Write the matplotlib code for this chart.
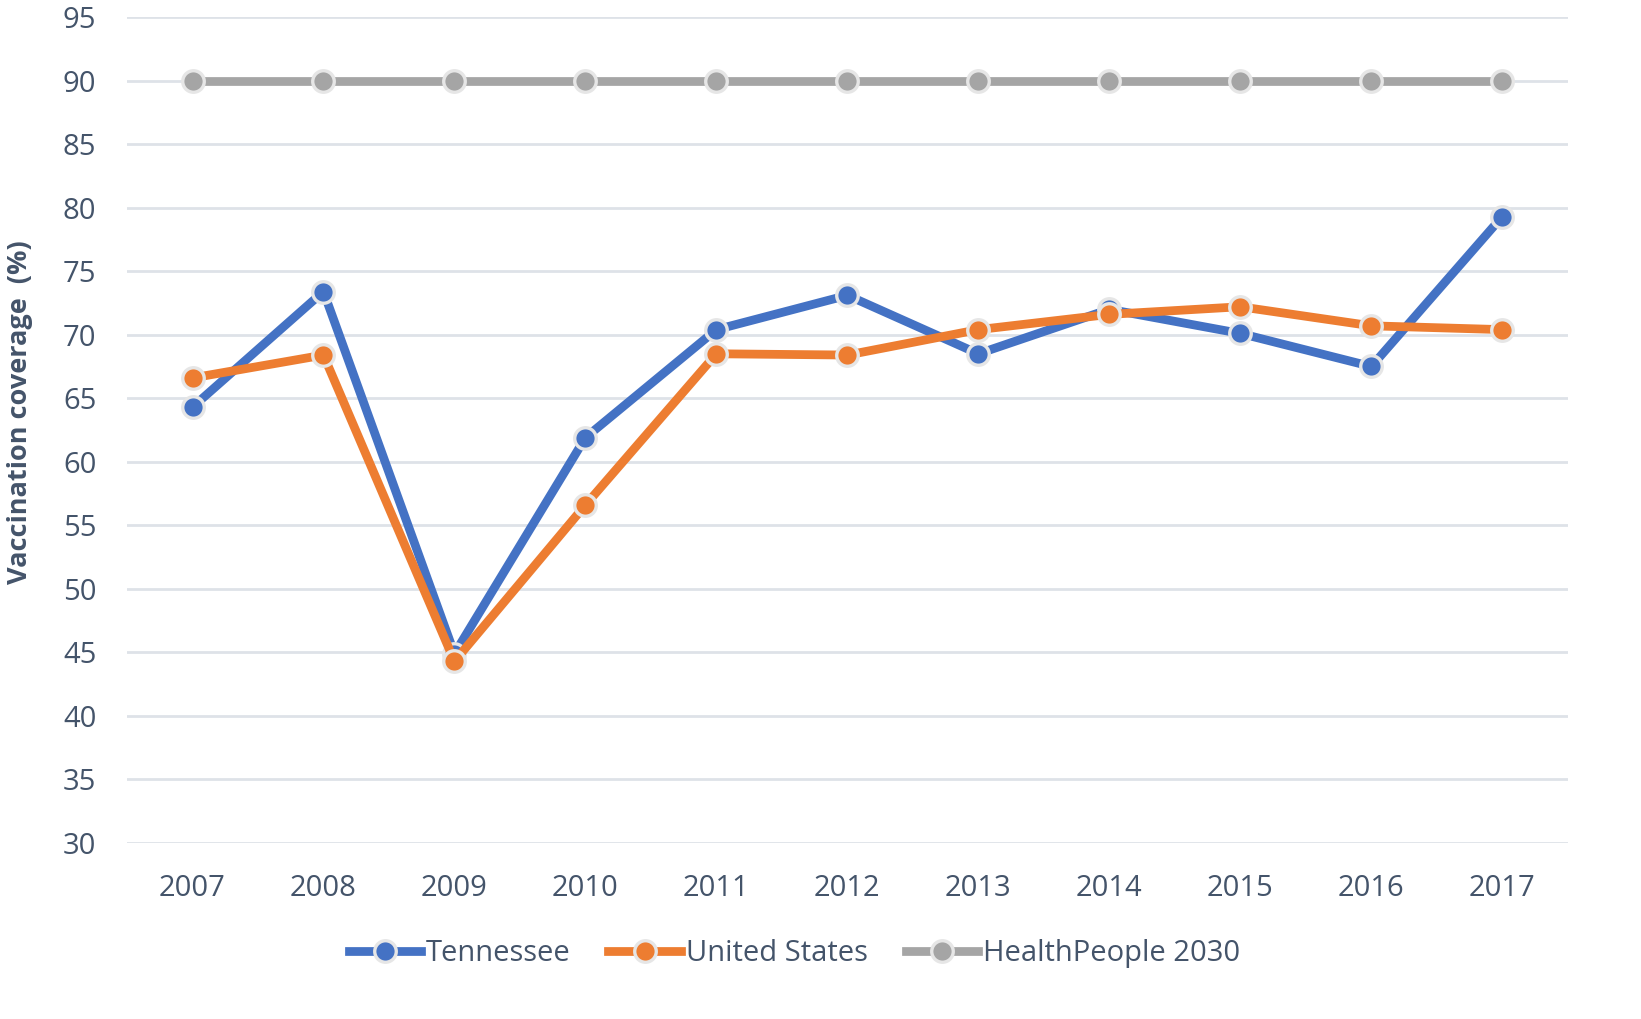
import matplotlib
matplotlib.use('Agg')
import matplotlib.pyplot as plt

plt.rcParams['font.family'] = ['Open Sans', 'DejaVu Sans']

years = ['2007', '2008', '2009', '2010', '2011', '2012', '2013', '2014', '2015', '2016', '2017']
tennessee = [64.3, 73.4, 44.9, 61.9, 70.4, 73.1, 68.5, 72.0, 70.1, 67.5, 79.3]
united_states = [66.6, 68.4, 44.3, 56.6, 68.5, 68.4, 70.4, 71.6, 72.2, 70.7, 70.4]
healthpeople = [90] * 11

C_TN = '#4472C4'
C_US = '#ED7D31'
C_HP = '#A5A5A5'
TXT = '#44546A'
GRID = '#DEE2E8'

fig = plt.figure(figsize=(16.41, 10.19), dpi=100)
ax = fig.add_axes([0.0774, 0.1727, 0.878, 0.8106])

x = range(len(years))
for vals, col, lab in [(tennessee, C_TN, 'Tennessee'),
                       (united_states, C_US, 'United States'),
                       (healthpeople, C_HP, 'HealthPeople 2030')]:
    ax.plot(x, vals, color=col, lw=6.3, marker='o', ms=15.5,
            markerfacecolor=col, markeredgecolor='#E6E6E6', markeredgewidth=2.4,
            label=lab, zorder=3)

ax.set_xlim(-0.5, len(years) - 0.5)
ax.set_ylim(30, 95)
ax.set_yticks(range(30, 96, 5))
ax.set_xticks(list(x))
ax.set_xticklabels(years)
ax.yaxis.grid(True, color=GRID, lw=2)
ax.set_axisbelow(True)
for s in ax.spines.values():
    s.set_visible(False)
ax.tick_params(length=0, labelsize=21, colors=TXT)
ax.tick_params(axis='y', pad=22)
ax.tick_params(axis='x', pad=22)

fig.text(20 / 1641, 1 - 412 / 1019, 'Vaccination coverage  (%)', rotation=90,
         ha='center', va='center', fontsize=19.5, fontweight='bold', color=TXT)

fig.legend(loc='center', bbox_to_anchor=(0.484, 0.064), ncol=3, frameon=False,
           fontsize=21, handlelength=2.5, handletextpad=0.15, columnspacing=1.3,
           labelcolor=TXT)

fig.savefig('out.png', dpi=100, facecolor='white')
